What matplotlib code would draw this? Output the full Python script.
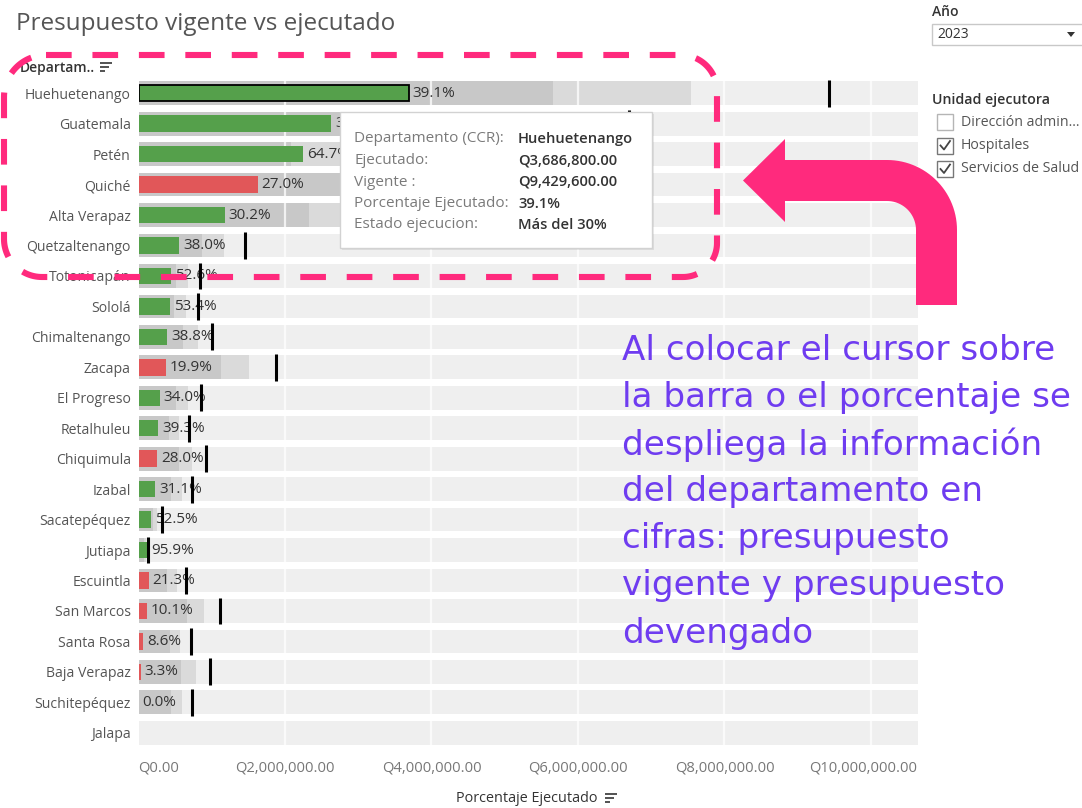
import numpy as np
import matplotlib
matplotlib.use("Agg")
import matplotlib.pyplot as plt
from matplotlib.patches import Rectangle, Polygon
from matplotlib.transforms import ScaledTranslation

plt.rcParams['font.family'] = ['Open Sans', 'DejaVu Sans']

# ---- data -------------------------------------------------------------
departamentos = ["Huehuetenango", "Guatemala", "Petén", "Quiché", "Alta Verapaz",
                 "Quetzaltenango", "Totonicapán", "Sololá", "Chimaltenango", "Zacapa",
                 "El Progreso", "Retalhuleu", "Chiquimula", "Izabal", "Sacatepéquez",
                 "Jutiapa", "Escuintla", "San Marcos", "Santa Rosa", "Baja Verapaz",
                 "Suchitepéquez", "Jalapa"]
vigente = [9429600, 6700000, 3480000, 6020000, 3890000, 1454000, 843000, 816000,
           1007000, 1881000, 847000, 683000, 915000, 734000, 324000, 123000,
           652000, 1111000, 715000, 974000, 734000, 0]
ejecutado = [3686800, 2633100, 2251600, 1625400, 1174800, 552500, 443400, 435700,
             390700, 374300, 288000, 268400, 256200, 228300, 170100, 118000,
             138900, 112200, 61500, 32100, 0, 0]
x_ticks = [0, 2000000, 4000000, 6000000, 8000000, 10000000]
x_tick_labels = ["Q0.00", "Q2,000,000.00", "Q4,000,000.00", "Q6,000,000.00",
                 "Q8,000,000.00", "Q10,000,000.00"]

tooltip_rows = [("Departamento (CCR):", "Huehuetenango"),
                ("Ejecutado:", "Q3,686,800.00"),
                ("Vigente :", "Q9,429,600.00"),
                ("Porcentaje Ejecutado:", "39.1%"),
                ("Estado ejecucion:", "Más del 30%")]
filtros = [("Dirección admin...", False), ("Hospitales", True),
           ("Servicios de Salud", True)]
nota = ["Al colocar el cursor sobre", "la barra o el porcentaje se",
        "despliega la información", "del departamento en",
        "cifras: presupuesto", "vigente y presupuesto", "devengado"]

# ---- styles ------------------------------------------------------------
GREEN = "#55a04b"
RED = "#e15759"
BG = "#efefef"
BAND60 = "#c8c8c8"
BAND80 = "#dadada"
PINK = "#ff2a7d"
PURPLE = "#6f3cf0"

W, H = 1082, 808
fig = plt.figure(figsize=(W / 100, H / 100), dpi=100)
fig.patch.set_facecolor("white")

# chart pane in pixel terms
left, right, top, bottom = 138.5, 918, 78, 748
ax = fig.add_axes([left / W, 1 - bottom / H, (right - left) / W, (bottom - top) / H])
xmax = (right - 139) / 73.2 * 1e6
ax.set_xlim(0, xmax)
n = len(departamentos)
ax.set_ylim(n - 0.5, -0.5)

y = np.arange(n)
vig = np.array(vigente, dtype=float)
eje = np.array(ejecutado, dtype=float)

band_h = 0.78
ax.barh(y, [xmax] * n, height=band_h, color=BG, zorder=1)
ax.barh(y, 0.8 * vig, height=band_h, color=BAND80, zorder=2)
ax.barh(y, 0.6 * vig, height=band_h, color=BAND60, zorder=3)
for t in x_ticks[1:]:
    ax.axvline(t, color="white", lw=1.6, alpha=0.75, zorder=4)

pct = [e / v * 100 if v > 0 else None for e, v in zip(eje, vig)]
colors = [GREEN if (p is not None and p >= 30) else RED for p in pct]
bars = ax.barh(y, eje, height=0.54, color=colors, zorder=5)
bars[0].set_edgecolor("black")
bars[0].set_linewidth(1.3)

for yi, v in zip(y, vig):
    if v > 0:
        ax.vlines(v, yi - 0.44, yi + 0.44, color="black", lw=2.2, zorder=7)

px = xmax / (right - left)
for yi, e, p in zip(y, eje, pct):
    if p is None:
        continue
    ax.text(e + 4 * px, yi, f"{p:.1f}%", va="center", ha="left",
            fontsize=11, color="#333333", zorder=6)

for s in ax.spines.values():
    s.set_visible(False)
ax.set_yticks(y)
ax.set_yticklabels(departamentos, fontsize=10.1, color="#555555")
ax.tick_params(axis="y", length=0, pad=5.5)
ax.set_xticks(x_ticks)
ax.set_xticklabels(x_tick_labels, fontsize=10.6, color="#777777")
ax.tick_params(axis="x", length=0, pad=9)
xt = ax.get_xticklabels()
xt[0].set_ha("left")
xt[-1].set_transform(xt[-1].get_transform() +
                     ScaledTranslation(-8 / 100, 0, fig.dpi_scale_trans))
ax.set_facecolor("white")

# ---- overlay in pixel coordinates ---------------------------------------
ov = fig.add_axes([0, 0, 1, 1], zorder=10)
ov.set_xlim(0, W)
ov.set_ylim(H, 0)
ov.axis("off")
ov.patch.set_visible(False)

ov.text(16, 24, "Presupuesto vigente vs ejecutado", fontsize=17.5, color="#555555",
        va="center", ha="left")
ov.text(20, 68, "Departam..", fontsize=10, color="#333333", va="center",
        ha="left", fontweight="semibold")


def sort_icon(x0, y0):
    for k, ln in enumerate([12, 9, 5]):
        ov.plot([x0, x0 + ln], [y0 + 4 * k, y0 + 4 * k], color="#444444", lw=1.3,
                solid_capstyle="butt")


sort_icon(100, 63)
ov.text(527, 799, "Porcentaje Ejecutado", fontsize=10.4, color="#333333",
        va="center", ha="center")
sort_icon(605, 794)

# tooltip
ov.add_patch(Rectangle((342, 114), 312, 136, facecolor="#000000", alpha=0.08,
                       edgecolor="none", zorder=20))
ov.add_patch(Rectangle((340, 112), 312, 136, facecolor="white",
                       edgecolor="#d2d2d2", lw=1, zorder=21))
for k, (lab, val) in enumerate(tooltip_rows):
    yy = 139 + 21.5 * k
    ov.text(354, yy, lab, fontsize=11, color="#7a7a7a", va="center", ha="left",
            zorder=22)
    ov.text(518, yy, val, fontsize=10.6, color="#333333", va="center", ha="left",
            fontweight="semibold", zorder=22)

# filters panel
ov.text(932, 12, "Año", fontsize=10, color="#333333", fontweight="semibold",
        va="center", ha="left")
ov.add_patch(Rectangle((932, 24), 160, 21, facecolor="white", edgecolor="#c8c8c8",
                       lw=1))
ov.text(937, 35, "2023", fontsize=10, color="#333333", va="center", ha="left")
ov.add_patch(Polygon([[1067, 32], [1075, 32], [1071, 37]], closed=True,
                     facecolor="#333333", edgecolor="none"))
ov.text(932, 100, "Unidad ejecutora", fontsize=10.2, color="#333333",
        fontweight="semibold", va="center", ha="left")
for k, (lab, chk) in enumerate(filtros):
    yy = 122 + 23.5 * k
    ov.add_patch(Rectangle((937, yy - 8), 16, 16, facecolor="white",
                           edgecolor="#b5b5b5" if not chk else "#777777", lw=1))
    if chk:
        ov.plot([940.5, 944, 950], [yy, yy + 4, yy - 4.5], color="#444444", lw=1.3)
    ov.text(961, yy, lab, fontsize=10.2, color="#555555", va="center", ha="left")

# dashed rounded frame
def rounded_path(x0, y0, x1, y1, r_tl, r_tr, r_br, r_bl):
    pts = []
    def arc(cx, cy, r, a0, a1):
        a = np.linspace(np.radians(a0), np.radians(a1), 30)
        return list(zip(cx + r * np.cos(a), cy + r * np.sin(a)))
    pts += [(x0 + r_tl, y0), (x1 - r_tr, y0)]
    pts += arc(x1 - r_tr, y0 + r_tr, r_tr, -90, 0)
    pts += [(x1, y1 - r_br)]
    pts += arc(x1 - r_br, y1 - r_br, r_br, 0, 90)
    pts += [(x0 + r_bl, y1)]
    pts += arc(x0 + r_bl, y1 - r_bl, r_bl, 90, 180)
    pts += [(x0, y0 + r_tl)]
    pts += arc(x0 + r_tl, y0 + r_tl, r_tl, 180, 270)
    return np.array(pts)


fr = rounded_path(4, 55, 717, 277, 42, 36, 34, 38)
ov.plot(fr[:, 0], fr[:, 1], color=PINK, lw=4.4, linestyle=(0, (4.2, 3.4)),
        solid_capstyle="butt", dash_capstyle="butt", zorder=30)

# curved arrow
a = np.linspace(np.pi / 2, 0, 30)
cx, cy = 887, 230
outer = [(cx + 70 * np.cos(t), cy - 70 * np.sin(t)) for t in a]
inner = [(cx + 29 * np.cos(t), cy - 29 * np.sin(t)) for t in a[::-1]]
arrow = ([(916, 305), (916, 230)] + inner[1:] +
         [(785, 201), (785, 222), (743, 180.5), (785, 139), (785, 160)] +
         outer + [(957, 305)])
ov.add_patch(Polygon(arrow, closed=True, facecolor=PINK, edgecolor="none",
                     zorder=30))

for k, line in enumerate(nota):
    ov.text(622, 350 + 47.2 * k, line, fontsize=24.6, color=PURPLE, va="center",
            ha="left", zorder=31, family=["DejaVu Sans"])

fig.savefig("out.png", dpi=100)
